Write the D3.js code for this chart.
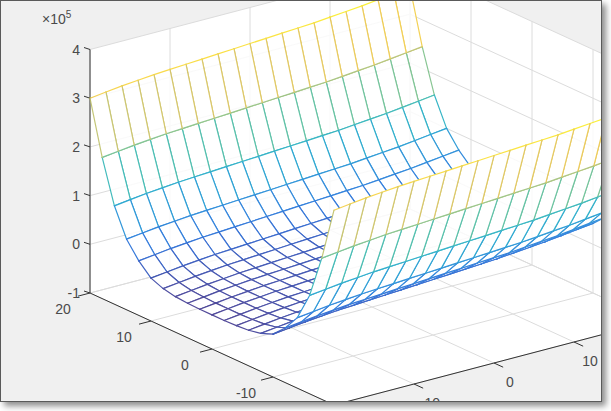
<!DOCTYPE html>
<html>
<head>
<meta charset="utf-8">
<script src="https://cdn.jsdelivr.net/npm/d3@7"></script>
<style>
  body { margin: 0; background: #fff; }
  text { font-family: "Liberation Sans", Arial, sans-serif; fill: #4a4a4a; font-size: 14px; }
</style>
</head>
<body>
<svg id="svg" width="611" height="411"></svg>
<script>
// grid coordinates
var xs = [-20, -18, -16, -14, -12, -10, -8, -6, -4, -2, 0, 2, 4, 6, 8, 10, 12, 14, 16, 18, 20];
var ys = [-20, -18, -16, -14, -12, -10, -8, -6, -4, -2, 0, 2, 4, 6, 8, 10, 12, 14, 16, 18, 20];
// z profile across y (units of 1e5), read at x = -20
var zAcrossY = [3.0, 1.9, 1.02, 0.45, 0.12, -0.12, -0.22, -0.27, -0.29, -0.30, -0.30,
                -0.30, -0.29, -0.27, -0.22, -0.12, 0.12, 0.45, 1.02, 1.9, 3.0];
// extra rise along x (units of 1e5)
var zAlongX = [0, 0.04, 0.08, 0.11, 0.14, 0.16, 0.18, 0.2, 0.22, 0.24, 0.26,
               0.28, 0.3, 0.32, 0.34, 0.37, 0.4, 0.43, 0.47, 0.51, 0.55];
var zTicks = [-1, 0, 1, 2, 3, 4];
var yTicks = [20, 10, 0, -10, -20];
var xTicks = [-20, -10, 0, 10, 20];
var yLabels = [20, 10, 0, -10];
var xLabels = [-10, 0, 10];

var svg = d3.select("#svg");

// orthographic projection fitted to the view
var sxX = d3.scaleLinear().domain([-20, 20]).range([-160, 160]);
var sxY = d3.scaleLinear().domain([-20, 20]).range([122, -122]);
var syX = d3.scaleLinear().domain([-20, 20]).range([42, -42]);
var syY = d3.scaleLinear().domain([-20, 20]).range([56, -56]);
var syZ = d3.scaleLinear().domain([-1, 4]).range([0, -243.5]);
var ox = 372, oy = 307;

function proj(x, y, z) {
  return [ox + sxX(x) + sxY(y), oy + syX(x) + syY(y) + syZ(z)];
}
function depth(x, y, z) {
  return (2.1 * x + 2.8 * y) * 2.7 - 18 * z;
}

var defs = svg.append("defs");
defs.append("clipPath").attr("id", "clip")
  .append("rect").attr("x", 1).attr("y", 1).attr("width", 600).attr("height", 400);
var f = defs.append("filter").attr("id", "shadow").attr("x", "-5%").attr("y", "-5%").attr("width", "115%").attr("height", "115%");
f.append("feDropShadow").attr("dx", 4).attr("dy", 4).attr("stdDeviation", 3).attr("flood-color", "#000").attr("flood-opacity", 0.45);

svg.append("rect").attr("x", 0.5).attr("y", 0.5).attr("width", 601).attr("height", 401)
  .attr("fill", "#f0f0f0").attr("stroke", "#5a5a5a").attr("filter", "url(#shadow)");

var g = svg.append("g").attr("clip-path", "url(#clip)");
var line = d3.line();

// back panes
var panes = [
  [[-20, -20, -1], [20, -20, -1], [20, 20, -1], [-20, 20, -1]],
  [[-20, 20, -1], [20, 20, -1], [20, 20, 4], [-20, 20, 4]],
  [[20, -20, -1], [20, 20, -1], [20, 20, 4], [20, -20, 4]]
];
panes.forEach(function (p) {
  g.append("path").attr("d", line(p.map(function (q) { return proj(q[0], q[1], q[2]); })) + "Z")
    .attr("fill", "#ffffff");
});

// grid lines
var grid = [];
xTicks.forEach(function (x) {
  grid.push([[x, -20, -1], [x, 20, -1]]);
  grid.push([[x, 20, -1], [x, 20, 4]]);
});
yTicks.forEach(function (y) {
  grid.push([[-20, y, -1], [20, y, -1]]);
  grid.push([[20, y, -1], [20, y, 4]]);
});
zTicks.forEach(function (z) {
  grid.push([[-20, 20, z], [20, 20, z]]);
  grid.push([[20, 20, z], [20, -20, z]]);
});
grid.forEach(function (s) {
  g.append("path").attr("d", line(s.map(function (q) { return proj(q[0], q[1], q[2]); })))
    .attr("stroke", "#dcdcdc").attr("stroke-width", 1).attr("fill", "none");
});

// axes
var axisCol = "#333";
[[[-20, 20, -1], [-20, 20, 4]], [[-20, 20, -1], [-20, -20, -1]], [[-20, -20, -1], [20, -20, -1]]].forEach(function (s) {
  g.append("path").attr("d", line(s.map(function (q) { return proj(q[0], q[1], q[2]); })))
    .attr("stroke", axisCol).attr("stroke-width", 1).attr("fill", "none");
});
zTicks.forEach(function (z) {
  var a = proj(-20, 20, z);
  g.append("line").attr("x1", a[0]).attr("y1", a[1]).attr("x2", a[0] - 6).attr("y2", a[1] - 2).attr("stroke", axisCol);
  g.append("text").attr("x", a[0] - 10).attr("y", a[1] + 5).attr("text-anchor", "end").text(z);
});
yTicks.forEach(function (y) {
  var a = proj(-20, y, -1), b = proj(-19, y, -1);
  g.append("line").attr("x1", a[0]).attr("y1", a[1]).attr("x2", a[0] - 1.5 * (b[0] - a[0])).attr("y2", a[1] - 1.5 * (b[1] - a[1])).attr("stroke", axisCol);
});
yLabels.forEach(function (y) {
  var a = proj(-20, y, -1);
  g.append("text").attr("x", a[0] - 27).attr("y", a[1] + 21).attr("text-anchor", "middle").text(y);
});
xTicks.forEach(function (x) {
  var a = proj(x, -20, -1), b = proj(x, -19, -1);
  g.append("line").attr("x1", a[0]).attr("y1", a[1]).attr("x2", a[0] - 1.5 * (b[0] - a[0])).attr("y2", a[1] - 1.5 * (b[1] - a[1])).attr("stroke", axisCol);
});
xLabels.forEach(function (x) {
  var a = proj(x, -20, -1);
  g.append("text").attr("x", a[0] + 16).attr("y", a[1] + 24).attr("text-anchor", "middle").text(x);
});
var ex = g.append("text").attr("x", 42).attr("y", 24);
ex.append("tspan").text("\u00d710");
ex.append("tspan").attr("dy", -6).style("font-size", "10px").text("5");

// surface
var Z = xs.map(function (x, i) { return ys.map(function (y, j) { return zAcrossY[j] + zAlongX[i]; }); });
var zAll = d3.merge(Z);
var parula = d3.interpolateRgbBasis(["#352a87", "#0f5cdd", "#1481d6", "#06a4ca", "#2eb7a4", "#87bf77", "#d1bb59", "#fec832", "#f9fb0e"]);
var color = d3.scaleSequential(parula).domain(d3.extent(zAll));

var cells = [];
for (var i = 0; i < xs.length - 1; i++) {
  for (var j = 0; j < ys.length - 1; j++) {
    var zc = (Z[i][j] + Z[i + 1][j] + Z[i + 1][j + 1] + Z[i][j + 1]) / 4;
    cells.push({ i: i, j: j, d: depth((xs[i] + xs[i + 1]) / 2, (ys[j] + ys[j + 1]) / 2, zc) });
  }
}
cells.sort(function (a, b) { return b.d - a.d; });

var sg = g.append("g").attr("opacity", 0.85);
cells.forEach(function (c) {
  var idx = [[c.i, c.j], [c.i + 1, c.j], [c.i + 1, c.j + 1], [c.i, c.j + 1]];
  var pts = idx.map(function (k) { return proj(xs[k[0]], ys[k[1]], Z[k[0]][k[1]]); });
  sg.append("path").attr("d", line(pts) + "Z").attr("fill", "#fff").attr("stroke", "none");
  for (var e = 0; e < 4; e++) {
    var a = idx[e], b = idx[(e + 1) % 4];
    var zm = (Z[a[0]][a[1]] + Z[b[0]][b[1]]) / 2;
    sg.append("line")
      .attr("x1", pts[e][0]).attr("y1", pts[e][1])
      .attr("x2", pts[(e + 1) % 4][0]).attr("y2", pts[(e + 1) % 4][1])
      .attr("stroke", color(zm)).attr("stroke-width", 1.2).attr("stroke-linecap", "round");
  }
});
</script>
</body>
</html>
